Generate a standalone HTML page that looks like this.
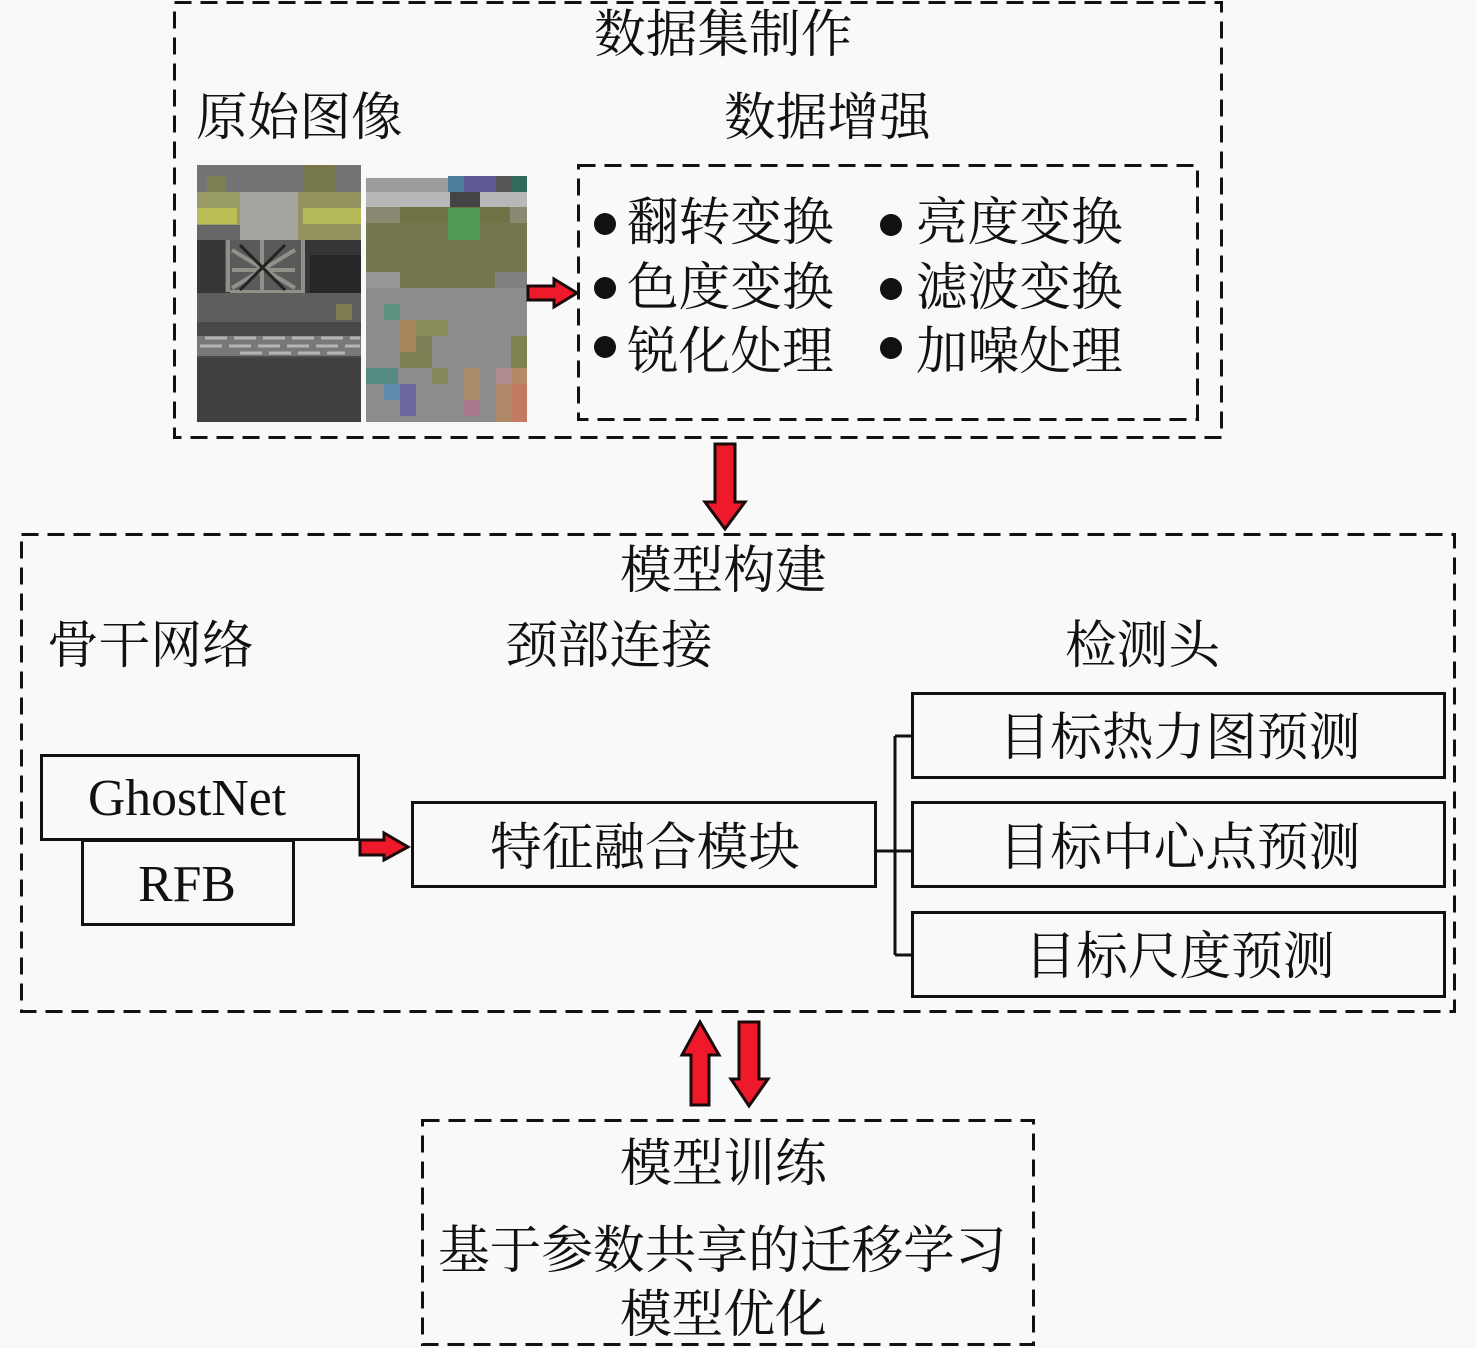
<!DOCTYPE html>
<html><head><meta charset="utf-8"><style>
html,body{margin:0;padding:0;background:#f9f9f9}
svg{display:block}
text{font-family:"Liberation Serif","Noto Serif CJK SC",serif;font-size:51.7px;fill:#111}
.c{text-anchor:middle}
.d{fill:none;stroke:#111;stroke-width:3;stroke-dasharray:17 9}
.s{fill:none;stroke:#111;stroke-width:3}
.a{fill:#ee1a2c;stroke:#1a0a0a;stroke-width:3;stroke-linejoin:miter}
</style></head><body>
<svg width="1476" height="1348" viewBox="0 0 1476 1348" xmlns="http://www.w3.org/2000/svg">
<rect width="1476" height="1348" fill="#f9f9f9"/>
<!-- left photo -->
<rect x="197" y="165" width="164" height="257" fill="#4a4a4a"/>
<rect x="197" y="165" width="164" height="29" fill="#747474"/>
<rect x="303" y="165" width="32" height="30" fill="#77794c"/>
<rect x="207" y="176" width="18" height="16" fill="#7d8052"/>
<rect x="197" y="192" width="45" height="48" fill="#9a9d68"/>
<rect x="197" y="208" width="40" height="16" fill="#b9bf55"/>
<rect x="240" y="192" width="58" height="48" fill="#a5a5a0"/>
<rect x="298" y="192" width="63" height="48" fill="#92935e"/>
<rect x="303" y="208" width="58" height="16" fill="#b5ba58"/>
<rect x="197" y="225" width="43" height="15" fill="#666"/>
<rect x="197" y="240" width="164" height="75" fill="#363636"/>
<rect x="225" y="240" width="80" height="52" fill="#5a5a5a"/>
<path d="M228 240V292M303 240V292M232 250L295 288M295 250L232 288M232 270H295M262 240V290M230 292H305" stroke="#909088" stroke-width="4" fill="none"/>
<path d="M240 245L285 290M285 245L240 290" stroke="#222" stroke-width="3" fill="none"/>
<rect x="310" y="255" width="51" height="38" fill="#262626"/>
<rect x="197" y="293" width="164" height="45" fill="#5e5e5e"/>
<rect x="336" y="304" width="16" height="16" fill="#7c7c50"/>
<rect x="197" y="322" width="164" height="14" fill="#484848"/>
<rect x="197" y="336" width="164" height="20" fill="#787878"/>
<path d="M205 338H360M200 346H360M240 353H345" stroke="#b5b5b5" stroke-width="3" stroke-dasharray="22 7" fill="none"/>
<rect x="197" y="358" width="164" height="64" fill="#404040"/>
<!-- right photo -->
<rect x="366" y="178" width="161" height="244" fill="#8c8c8c"/>
<rect x="366" y="178" width="161" height="17" fill="#9c9c9c"/>
<rect x="448" y="176" width="16" height="16" fill="#4f7f9c"/>
<rect x="464" y="176" width="32" height="16" fill="#5f5a95"/>
<rect x="496" y="176" width="15" height="16" fill="#555"/>
<rect x="511" y="176" width="16" height="16" fill="#2f6a5a"/>
<rect x="366" y="192" width="161" height="15" fill="#b8b8b8"/>
<rect x="450" y="192" width="30" height="16" fill="#444"/>
<rect x="366" y="207" width="161" height="16" fill="#8a8a72"/>
<rect x="400" y="207" width="110" height="16" fill="#6f7345"/>
<rect x="366" y="223" width="161" height="65" fill="#75784c"/>
<rect x="448" y="208" width="32" height="32" fill="#4f9a55"/>
<rect x="366" y="272" width="34" height="16" fill="#979797"/>
<rect x="495" y="272" width="32" height="16" fill="#808080"/>
<rect x="384" y="304" width="16" height="16" fill="#5f917f"/>
<rect x="400" y="320" width="16" height="32" fill="#a8845c"/>
<rect x="416" y="320" width="32" height="16" fill="#8a8c5a"/>
<rect x="400" y="352" width="32" height="16" fill="#7c7f4f"/>
<rect x="416" y="336" width="16" height="16" fill="#7e7e55"/>
<rect x="511" y="336" width="16" height="32" fill="#7f8352"/>
<rect x="366" y="368" width="32" height="16" fill="#558a80"/>
<rect x="432" y="368" width="16" height="16" fill="#84885a"/>
<rect x="464" y="368" width="16" height="32" fill="#ab8a68"/>
<rect x="496" y="368" width="16" height="16" fill="#b08c90"/>
<rect x="512" y="368" width="15" height="16" fill="#b58868"/>
<rect x="384" y="384" width="16" height="16" fill="#5f8cad"/>
<rect x="400" y="384" width="16" height="32" fill="#6a66a0"/>
<rect x="464" y="400" width="16" height="16" fill="#a8788e"/>
<rect x="496" y="384" width="16" height="38" fill="#b08a68"/>
<rect x="512" y="384" width="15" height="38" fill="#c47a62"/>
<!-- dashed boxes -->
<rect x="174.500" y="2.500" width="1047" height="435" class="d"/>
<rect x="578.500" y="165.500" width="619" height="254" class="d"/>
<rect x="21.500" y="534.500" width="1433" height="477" class="d"/>
<rect x="422.500" y="1120.500" width="611" height="224" class="d"/>
<!-- solid boxes -->
<rect x="41.500" y="755.500" width="317" height="84" class="s"/>
<rect x="82.500" y="840.500" width="211" height="84" class="s"/>
<rect x="412.500" y="802.500" width="463" height="84" class="s"/>
<rect x="912.500" y="693.500" width="532" height="84" class="s"/>
<rect x="912.500" y="802.500" width="532" height="84" class="s"/>
<rect x="912.500" y="912.500" width="532" height="84" class="s"/>
<path d="M876 851H912M895 736V955M895 736H912M895 955H912" class="s"/>
<!-- arrows -->
<path class="a" d="M528 286H554V279L577 293L554 307V300H528Z"/>
<path class="a" d="M360 840H384V833L408 847L384 860V855H360Z"/>
<path class="a" d="M715 444H735V502H745L725 529L705 502H715Z"/>
<path class="a" d="M691 1105V1055H682L700 1022L719 1055H709V1105Z"/>
<path class="a" d="M739 1022H759V1079H768L749 1106L731 1079H739Z"/>
<!-- text -->
<text x="594" y="52">数据集制作</text>
<text x="196" y="135">原始图像</text>
<text x="724" y="135">数据增强</text>
<circle cx="605" cy="224" r="11" fill="#111"/>
<circle cx="605" cy="288" r="11" fill="#111"/>
<circle cx="605" cy="347" r="11" fill="#111"/>
<circle cx="891" cy="225" r="11" fill="#111"/>
<circle cx="891" cy="289" r="11" fill="#111"/>
<circle cx="891" cy="348" r="11" fill="#111"/>
<text x="627" y="240">翻转变换</text>
<text x="627" y="305">色度变换</text>
<text x="627" y="369">锐化处理</text>
<text x="916" y="240">亮度变换</text>
<text x="916" y="305">滤波变换</text>
<text x="916" y="369">加噪处理</text>
<text x="620" y="588">模型构建</text>
<text x="47" y="663">骨干网络</text>
<text x="506" y="663">颈部连接</text>
<text x="1065" y="663">检测头</text>
<text x="187" y="815" class="c">GhostNet</text>
<text x="187" y="901" class="c">RFB</text>
<text x="645" y="865" class="c">特征融合模块</text>
<text x="1179.500" y="755" class="c">目标热力图预测</text>
<text x="1179.500" y="865" class="c">目标中心点预测</text>
<text x="1179.500" y="974" class="c">目标尺度预测</text>
<text x="620" y="1181">模型训练</text>
<text x="438" y="1268">基于参数共享的迁移学习</text>
<text x="620" y="1332">模型优化</text>
</svg>
</body></html>
